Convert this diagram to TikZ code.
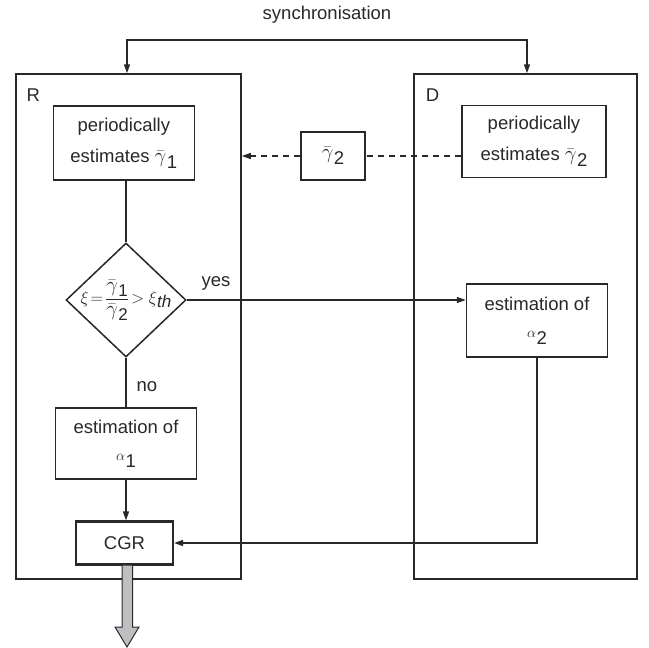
\documentclass[tikz,border=0pt]{standalone}
\usepackage{amsmath}
\usepackage{fontspec}
\setmainfont{Liberation Sans}
\usetikzlibrary{shapes.geometric,arrows.meta}
\definecolor{ink}{RGB}{40,40,40}
\definecolor{arrowgray}{RGB}{190,191,195}
\newcommand\gsub[1]{{\fontsize{21}{21}\selectfont$\bar{\gamma}$}\kern0.5pt\raisebox{-0.6ex}{#1}}
\newcommand\asub[1]{\raisebox{0.35ex}{\fontsize{14}{14}\selectfont$\alpha$}\kern0.5pt\raisebox{-0.3ex}{#1}}
\begin{document}
\begin{tikzpicture}[x=1pt,y=-1pt,
  font=\fontsize{18.5}{22}\selectfont, text=ink,
  line width=1.5pt, draw=ink,
  frame/.style={draw, inner sep=0pt},
  box/.style={draw, align=center, inner sep=0pt, font=\fontsize{18.5}{31}\selectfont},
  arr/.style={-{Triangle[length=9pt,width=6pt]}},
  darr/.style={{Triangle[length=9pt,width=6pt]}-{Triangle[length=9pt,width=6pt]}},
  dsh/.style={dash pattern=on 6pt off 5pt}]
\useasboundingbox (0,0) rectangle (649,648);

% outer frames
\node[frame, minimum width=225pt, minimum height=505pt] (R) at (128.5,326.5) {};
\node[frame, minimum width=223pt, minimum height=505pt] (D) at (525.5,326.5) {};
\node[anchor=west, inner sep=0pt] (Rl) at (26,95) {R};
\node[anchor=west, inner sep=0pt] (Dl) at (425,95) {D};

% synchronisation
\node (sync) at (327,15) {synchronisation};
\coordinate (s1) at (127,40);
\coordinate (s2) at (527,40);
\draw[darr] (s1 |- R.north) -- (s1) -- (s2) -- (s2 |- D.north);

% inner boxes
\node[box, minimum width=141pt, minimum height=74pt] (P1) at (123.8,143)
  {periodically\\estimates \gsub{1}};
\node[box, minimum width=64pt, minimum height=48pt] (g2) at (333,156)
  {\gsub{2}};
\node[box, minimum width=144pt, minimum height=72pt] (P2) at (534,141.5)
  {periodically\\estimates \gsub{2}};
\node[diamond, draw, minimum width=120pt, minimum height=114pt, inner sep=0pt] (dec) at (126,300) {};
\node[inner sep=0pt, font=\fontsize{17}{20}\selectfont] (form) at (dec)
  {$\xi\!=\!\dfrac{\text{\gsub{1}}}{\text{\gsub{2}}}\!>\xi\text{\raisebox{-0.5ex}{\itshape th}}$};
\node[box, minimum width=141pt, minimum height=71pt] (a1) at (126,443.5)
  {estimation of\\\asub{1}};
\node[box, minimum width=141pt, minimum height=73pt] (a2) at (537,320.5)
  {estimation of\\\asub{2}};
\node[box, line width=2.2pt, minimum width=97pt, minimum height=43pt] (CGR) at (124.5,543) {CGR};

% labels
\node (yes) at (216,283) {yes};
\node (no) at (147,387) {no};

% connectors
\draw[dsh] (P2.west |- g2.east) -- (g2.east);
\draw[dsh, arr] (g2.west) -- (g2.west -| R.east);
\draw (dec.north) -- (dec.north |- P1.south);
\draw (dec.south) -- (dec.south |- a1.north);
\draw[arr] (dec.east) -- (dec.east -| a2.west);
\draw[arr] (a1.south) -- (a1.south |- CGR.north);
\draw[arr] (a2.south) |- (CGR.east);

% output arrow
\coordinate (out) at (127,647);
\draw[fill=arrowgray, line width=1pt]
  (CGR.south -| 122,0) -- (122,627) -- (115,627) -- (out) -- (139,627) -- (132.5,627) -- (CGR.south -| 132.5,0);
\end{tikzpicture}
\end{document}
